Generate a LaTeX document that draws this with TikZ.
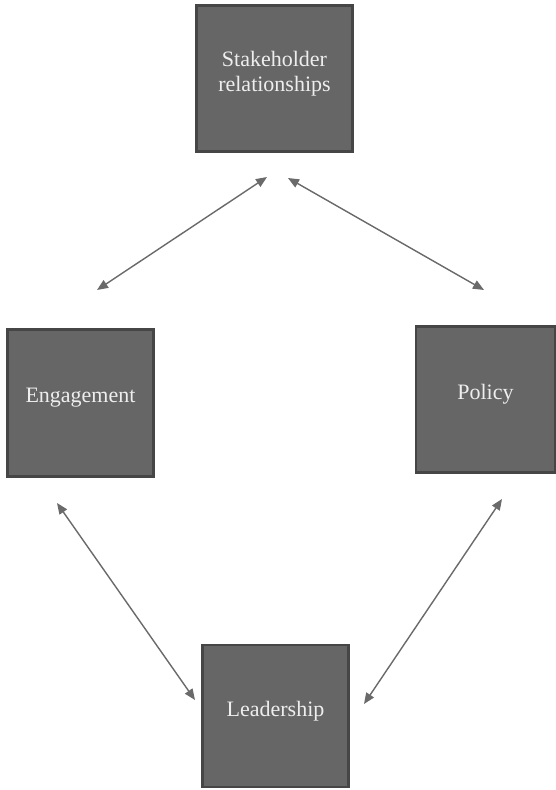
\documentclass[tikz,border=0pt]{standalone}
\usepackage{fontspec}
\setmainfont{Liberation Serif}
\usetikzlibrary{arrows.meta}
\definecolor{boxfill}{HTML}{666666}
\definecolor{boxline}{HTML}{464646}
\definecolor{boxtext}{HTML}{EEEEEE}
\definecolor{arrowc}{HTML}{6A6A6A}
\begin{document}
\begin{tikzpicture}[x=1pt,y=-1pt,
  box/.style={draw=boxline, line width=2.5pt, fill=boxfill, text=boxtext,
    font=\fontsize{22}{25}\selectfont, align=center, inner sep=0pt, text depth=15pt},
  link/.style={draw=arrowc, line width=1.4pt,
    {Triangle[length=11pt,width=9pt]}-{Triangle[length=11pt,width=9pt]}}]
\useasboundingbox (0,0) rectangle (556,790);
\fill[white] (0,0) rectangle (556,790);
\node[box, minimum width=156pt, minimum height=146pt] (stake) at (274.5,78.5) {Stakeholder\\relationships};
\node[box, minimum width=146pt, minimum height=147pt] (eng) at (80.5,403) {Engagement};
\node[box, minimum width=139pt, minimum height=146pt] (pol) at (485.5,399.5) {Policy};
\node[box, minimum width=146pt, minimum height=142pt] (lead) at (275.5,716) {Leadership};
\coordinate (a1) at (97,290);
\coordinate (a2) at (267,177);
\coordinate (b1) at (288,178);
\coordinate (b2) at (484,290);
\coordinate (c1) at (57,503);
\coordinate (c2) at (195,700);
\coordinate (d1) at (502,499);
\coordinate (d2) at (364,704);
\draw[link] (a1) -- (a2);
\draw[link] (b1) -- (b2);
\draw[link] (c1) -- (c2);
\draw[link] (d1) -- (d2);
\end{tikzpicture}
\end{document}
